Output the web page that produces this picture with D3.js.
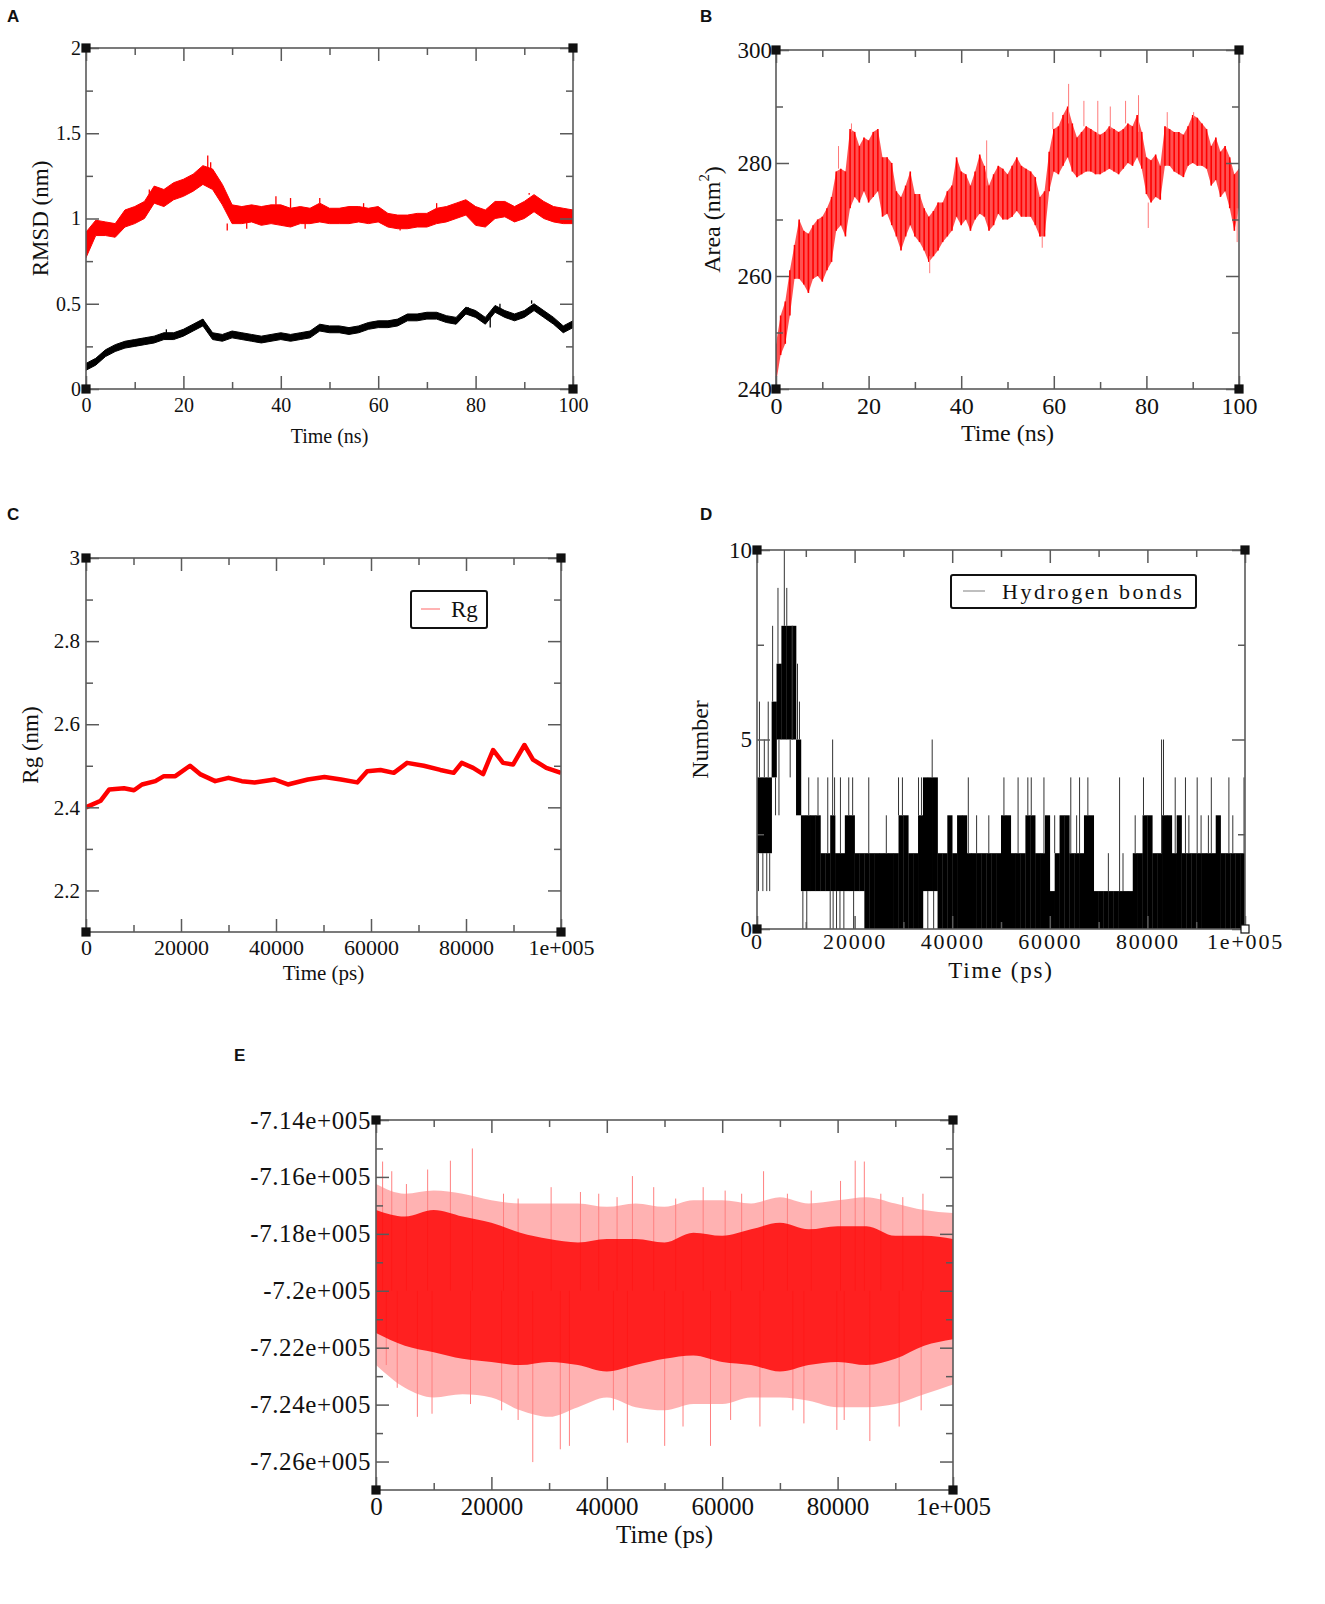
<!DOCTYPE html>
<html>
<head>
<meta charset="utf-8">
<script src="https://cdn.jsdelivr.net/npm/d3@7"></script>
<style>
body { margin: 0; background: #fff; }
svg text { font-family: "Liberation Serif", "Times New Roman", serif; fill: #111; }
.letter { font-family: "Liberation Sans", Arial, sans-serif; font-weight: bold; }
</style>
</head>
<body>
<div id="fig"></div>
<script>
// ---------- panel A : RMSD (nm) vs time (ns), read every 2 ns ----------
var aTime = [0,2,4,6,8,10,12,14,16,18, 20,22,24,26,28,30,32,34,36,38,
             40,42,44,46,48,50,52,54,56,58, 60,62,64,66,68,70,72,74,76,78,
             80,82,84,86,88,90,92,94,96,98, 100];
var aRedLo = [.77,.90,.90,.89,.95,.97,1.00,1.09,1.07,1.11, 1.13,1.16,1.20,1.17,1.08,.97,.97,.98,.96,.97,
              .96,.95,.97,.97,.98,.97,.97,.97,.98,.97, .98,.95,.94,.94,.95,.95,.97,.98,1.00,1.02,
              .96,.95,1.00,1.01,.98,1.00,1.04,1.00,.98,.97, .97];
var aRedHi = [.92,.99,.98,.97,1.05,1.07,1.10,1.19,1.17,1.21, 1.23,1.26,1.31,1.29,1.20,1.08,1.07,1.08,1.07,1.08,
              1.08,1.06,1.07,1.06,1.09,1.06,1.06,1.07,1.07,1.06, 1.07,1.03,1.02,1.02,1.03,1.03,1.06,1.07,1.09,1.11,
              1.07,1.05,1.10,1.10,1.07,1.10,1.14,1.10,1.07,1.06, 1.05];
var aBlackLo = [.11,.14,.19,.22,.24,.25,.26,.27,.29,.29, .31,.34,.37,.29,.28,.30,.29,.28,.27,.28,
                .29,.28,.29,.30,.34,.33,.33,.32,.33,.35, .36,.36,.37,.40,.40,.41,.41,.39,.38,.44,
                .42,.38,.45,.42,.40,.42,.46,.42,.38,.33, .36];
var aBlackHi = [.15,.18,.23,.26,.28,.29,.30,.31,.33,.33, .35,.38,.41,.33,.32,.34,.33,.32,.31,.32,
                .33,.32,.33,.34,.38,.37,.37,.36,.37,.39, .40,.40,.41,.44,.44,.45,.45,.43,.42,.48,
                .46,.42,.49,.46,.44,.46,.50,.46,.42,.37, .40];
// single excursions visible outside the bands (time ns, RMSD nm)
var aRedSpikeT = [13,25,25.6,29,33,39,42,45,48,57,64.5,72,91,91.6];
var aRedSpikeV = [1.17,1.37,1.33,0.93,0.94,1.13,1.12,0.94,1.12,1.09,0.93,1.09,1.15,1.13];
var aBlackSpikeT = [16.5,24,78.5,83,85,91.5];
var aBlackSpikeV = [0.35,0.41,0.48,0.36,0.50,0.52];
var aXTicks = [0,20,40,60,80,100], aXMinor = [10,30,50,70,90];
var aYTicks = [0,0.5,1,1.5,2], aYMinor = [0.25,0.75,1.25,1.75];
var aYLabels = ["0","0.5","1","1.5","2"];

// ---------- panel B : SASA area (nm2), read every 1 ns ----------
var bTime = [0,1,2,3,4,5,6,7,8,9, 10,11,12,13,14,15,16,17,18,19, 20,21,22,23,24,25,26,27,28,29,
             30,31,32,33,34,35,36,37,38,39, 40,41,42,43,44,45,46,47,48,49, 50,51,52,53,54,55,56,57,58,59,
             60,61,62,63,64,65,66,67,68,69, 70,71,72,73,74,75,76,77,78,79, 80,81,82,83,84,85,86,87,88,89,
             90,91,92,93,94,95,96,97,98,99, 100];
var bLo = [241,246,248,253,259.5,259.5,258.5,257,259.5,260, 259,261,262.5,268,269,267,272,274,273,275,
           273,274,275,270.5,271,269,267,264.5,267,269, 267,266,264.5,262.5,263.5,264.5,266,267,268,270.5,
           269,270,268,270,271,270.5,268,269,271,270, 270,270.5,271.5,270.5,270.5,270.5,269,267,267,275,
           278.5,278,279.5,281,278.5,277.5,278,278.5,278.5,278, 278,278.5,279,278.5,278,279,280,279.5,281,279,
           274.5,273,274,273.5,279.5,279.5,278.5,278,277.5,279.5, 280,279.5,279.5,279,276,277,274,275,272,268,
           272];
var bHi = [248,253,255.5,261,265.5,270,268,267.5,269,270, 270.5,272,274,278.5,279,278.5,286,285.5,283,284.5,
           284,285.5,286,281,281,280,275,274,276,278.5, 274.5,274.5,272,270.5,271.5,273,273,275,276,281,
           278.5,278,276,278.5,281.5,279.5,276,278,279.5,279, 278,279.5,281,279.5,279,278.5,277.5,274,275,282,
           286,286.5,288.5,290,287,284.5,285.5,286.5,286,285.5, 285,285.5,286.5,286,285.5,286,287,286.5,288.5,285.5,
           281,280.5,281.5,279.5,286.5,286,285.5,285.5,285,286.5, 288.5,288,287,286,283,284.5,282,283,281,278,
           279];
var bSpikeT = [13.5,16.3,33.2,45.5,57.5,59.8,63.2,66.5,69.5,72.2,75.5,78.3,80.4,84.5,90.2,99.6];
var bSpikeV = [283,287,260.5,284,265,289,294,291,291,290,291,292,268.5,289,289,266];
var bXTicks = [0,20,40,60,80,100], bXMinor = [10,30,50,70,90];
var bYTicks = [240,260,280,300], bYMinor = [250,270,290];

// ---------- panel C : radius of gyration (nm) vs time (ps) ----------
var cTime = [0,3100,4900,8000,10100,11800,14600,16400,18800,21900,24000,27200,30000,32800,35500,39700,
             42500,46700,50200,53700,57100,59200,62000,64800,67600,71100,74600,77400,79100,81500,83600,
             85700,87800,89900,92300,94100,96900,100000];
var cRg = [2.400,2.416,2.443,2.446,2.441,2.455,2.463,2.475,2.475,2.500,2.480,2.463,2.471,2.463,2.460,2.467,
           2.455,2.467,2.473,2.467,2.460,2.487,2.490,2.483,2.507,2.500,2.490,2.483,2.507,2.495,2.480,
           2.538,2.507,2.503,2.550,2.515,2.495,2.483];
var cXTicks = [0,20000,40000,60000,80000,100000], cXMinor = [10000,30000,50000,70000,90000];
var cXLabels = ["0","20000","40000","60000","80000","1e+005"];
var cYTicks = [2.2,2.4,2.6,2.8,3.0], cYMinor = [2.3,2.5,2.7,2.9];
var cYLabels = ["2.2","2.4","2.6","2.8","3"];

// ---------- panel D : hydrogen bonds, dense range per 1000 ps bin + single spikes ----------
var dBinLo = [2,2,2,4,5,5,5,5,3,1, 1,1,1,1,1,1,1,1,1,1, 1,1,0,0,0,0,0,0,0,0, 0,0,0,0,1,1,1,0,0,0,
              0,0,0,0,0,0,0,0,0,0, 0,0,0,0,0,0,0,0,0,0, 0,0,0,0,0,0,0,0,0,0, 0,0,0,0,0,0,0,0,0,0,
              0,0,0,0,0,0,0,0,0,0, 0,0,0,0,0,0,0,0,0,0];
var dBinHi = [4,4,4,6,7,8,8,8,5,3, 3,3,3,2,2,3,2,2,3,3, 2,2,2,2,2,2,2,2,2,3, 3,2,2,3,4,4,4,2,2,3,
              2,3,3,2,2,2,2,2,2,2, 3,3,2,2,2,3,3,2,2,3, 1,2,3,3,2,2,2,3,3,1, 1,1,1,1,1,1,1,2,2,3,
              3,2,2,3,3,2,3,2,2,2, 2,2,2,2,3,2,2,2,2,2];
var dSpikeT = [500,1500,2300,3200,4300,5600,6100,7300,8300,8700,
               10600,12500,14500,15500,15900,17100,18800,19600,22900,26500,29000,29800,33100,33700,35900,
               43300,45000,47500,50600,53500,55500,56200,58800,61000,64300,65500,66100,67800,72000,74300,
               75000,77500,79200,82900,83300,85700,87800,88500,90200,91000,92500,93100,96700,97500,99800,
               300,1200,2000,2600,3800,4500,6800,9400,10200,15000,15600,16300,17000,17800,19800,35000,36200];
var dSpikeV = [6,5,6,8,9,10,9,8,7,6,
               4,4,4,5,4,4,4,4,4,3,4,4,4,4,5,
               4,3,3,4,4,4,4,4,3,4,3,4,4,2,4,
               2,3,4,5,5,4,4,3,4,3,3,4,4,3,4,
               1,1,1,1,3,3,4,0,0,0,0,0,0,0,0,0,0];
var dXTicks = [0,20000,40000,60000,80000,100000], dXMinor = [10000,30000,50000,70000,90000];
var dYTicks = [0,5,10], dYMinor = [2.5,7.5];

// ---------- panel E : potential energy, envelopes per 5000 ps + visible spikes ----------
var eTime = [0,5000,10000,15000,20000,25000,30000,35000,40000,45000,50000,
             55000,60000,65000,70000,75000,80000,85000,90000,95000,100000];
var eOuterHi = [-716250,-716590,-716480,-716590,-716820,-716930,-716930,-716930,-717050,-716930,-717050,
                -716820,-716820,-716930,-716710,-716930,-716820,-716710,-716930,-717160,-717270];
var eCoreHi = [-717160,-717390,-717160,-717390,-717610,-717960,-718180,-718300,-718180,-718180,-718300,
               -717960,-718070,-717840,-717610,-717840,-717730,-717730,-718070,-718070,-718180];
var eCoreLo = [-721480,-721930,-722160,-722390,-722500,-722610,-722500,-722610,-722840,-722610,-722390,
               -722270,-722500,-722610,-722840,-722610,-722500,-722610,-722390,-721930,-721700];
var eOuterLo = [-722610,-723410,-723750,-723640,-723750,-724200,-724430,-724090,-723750,-724090,-724200,
                -723980,-723980,-723750,-723750,-723860,-724090,-724090,-723980,-723640,-723290];
var eSpikeT = [1143,2730,5270,8950,12890,16700,22100,24630,30350,35430,38600,41780,44440,48130,
               51940,56700,60510,63370,67170,71300,75430,80510,83050,84630,87490,91300,94790,
               1780,3680,7170,9710,16380,21780,24630,27170,31940,33520,41140,43560,50030,53210,
               57970,61460,66540,72250,74160,79870,81140,85590,90670,94480];
var eSpikeV = [-715460,-715800,-716250,-715740,-715430,-715000,-716590,-716760,-716360,-716530,-716590,
               -716710,-715970,-716360,-716760,-716360,-716480,-716590,-715800,-716590,-716480,-716140,
               -715430,-715460,-716590,-716710,-716590,
               -722610,-723410,-724430,-724320,-723980,-724200,-724540,-726020,-725570,-725450,-724200,
               -725340,-725450,-724770,-725450,-724540,-724770,-724200,-724660,-724890,-724540,-725280,
               -724770,-724200];
var eXTicks = [0,20000,40000,60000,80000,100000], eXMinor = [10000,30000,50000,70000,90000];
var eYTicks = [-726000,-724000,-722000,-720000,-718000,-716000,-714000];
var eYMinor = [-725000,-723000,-721000,-719000,-717000,-715000];
var eYLabels = ["-7.26e+005","-7.24e+005","-7.22e+005","-7.2e+005","-7.18e+005","-7.16e+005","-7.14e+005"];

var psLabels = ["0","20000","40000","60000","80000","1e+005"];

var svg = d3.select("#fig").append("svg").attr("width", 1325).attr("height", 1604);
var frameColor = "#5a5a5a";
var clipId = 0;

function setPanel(p) {
    var x = d3.scaleLinear().domain(p.xDomain).range([p.left, p.right]);
    var y = d3.scaleLinear().domain(p.yDomain).range([p.bottom, p.top]);
    var g = svg.append("g");
    var id = "clip" + (clipId++);
    g.append("clipPath").attr("id", id).append("rect")
        .attr("x", p.left).attr("y", p.top)
        .attr("width", p.right - p.left).attr("height", p.bottom - p.top);
    var plot = g.append("g").attr("clip-path", "url(#" + id + ")");
    return { p: p, x: x, y: y, g: g, plot: plot };
}

function styleAxis(sel, size, spacing) {
    sel.select(".domain").remove();
    sel.selectAll("line").attr("stroke", frameColor).attr("stroke-width", 1.5);
    sel.selectAll("text").attr("font-family", "Liberation Serif, serif").attr("font-size", size)
        .attr("letter-spacing", spacing || 0).attr("fill", "#111");
}

function finishPanel(P) {
    var p = P.p, g = P.g, x = P.x, y = P.y;
    var big = p.major || 13, small = p.minor || 7;
    g.append("rect").attr("x", p.left).attr("y", p.top)
        .attr("width", p.right - p.left).attr("height", p.bottom - p.top)
        .attr("fill", "none").attr("stroke", frameColor).attr("stroke-width", 1.6);

    // ticks on all four sides, pointing inwards
    g.append("g").attr("transform", "translate(0," + p.bottom + ")")
        .call(d3.axisBottom(x).tickValues(p.xTicks).tickSize(-big).tickPadding(p.xPad)
            .tickFormat(function (d, i) { return p.xLabels[i]; }))
        .call(styleAxis, p.xFont, p.xSpacing);
    g.append("g").attr("transform", "translate(0," + p.bottom + ")")
        .call(d3.axisBottom(x).tickValues(p.xMinor).tickSize(-small).tickFormat(""))
        .call(styleAxis, p.xFont);
    g.append("g").attr("transform", "translate(0," + p.top + ")")
        .call(d3.axisTop(x).tickValues(p.xTicks).tickSize(-big).tickFormat(""))
        .call(styleAxis, p.xFont);
    g.append("g").attr("transform", "translate(0," + p.top + ")")
        .call(d3.axisTop(x).tickValues(p.xMinor).tickSize(-small).tickFormat(""))
        .call(styleAxis, p.xFont);
    g.append("g").attr("transform", "translate(" + p.left + ",0)")
        .call(d3.axisLeft(y).tickValues(p.yTicks).tickSize(-big).tickPadding(p.yPad)
            .tickFormat(function (d, i) { return p.yLabels[i]; }))
        .call(styleAxis, p.yFont, p.ySpacing);
    g.append("g").attr("transform", "translate(" + p.left + ",0)")
        .call(d3.axisLeft(y).tickValues(p.yMinor).tickSize(-small).tickFormat(""))
        .call(styleAxis, p.yFont);
    g.append("g").attr("transform", "translate(" + p.right + ",0)")
        .call(d3.axisRight(y).tickValues(p.yTicks).tickSize(-big).tickFormat(""))
        .call(styleAxis, p.yFont);
    g.append("g").attr("transform", "translate(" + p.right + ",0)")
        .call(d3.axisRight(y).tickValues(p.yMinor).tickSize(-small).tickFormat(""))
        .call(styleAxis, p.yFont);

    // little square markers in the corners
    var corners = [[p.left, p.top], [p.right, p.top], [p.left, p.bottom], [p.right, p.bottom]];
    g.selectAll(".corner").data(corners).enter().append("rect")
        .attr("x", function (d) { return d[0] - 4; }).attr("y", function (d) { return d[1] - 4; })
        .attr("width", 8).attr("height", 8)
        .attr("fill", function (d, i) { return (p.hollowLast && i == 3) ? "#fff" : "#111"; })
        .attr("stroke", "#111").attr("stroke-width", 1.2);

    g.append("text").attr("x", x((p.xDomain[0] + p.xDomain[1]) / 2) + (p.xTitleDx || 0)).attr("y", p.xTitleY)
        .attr("text-anchor", "middle").attr("font-size", p.titleFont)
        .attr("letter-spacing", p.xSpacing || 0).text(p.xTitle);
    if (p.yTitle) {
        var t = g.append("text").attr("text-anchor", "middle").attr("font-size", p.yTitleFont)
            .attr("transform", "translate(" + p.yTitleX + "," + ((p.top + p.bottom) / 2) + ") rotate(-90)")
            .attr("dy", "0.35em");
        t.append("tspan").text(p.yTitle);
        if (p.ySup) {
            t.append("tspan").attr("font-size", p.yTitleFont * 0.62).attr("dy", "-0.75em").text(p.ySup);
            t.append("tspan").attr("dy", "0.47em").text(")");
        }
    }
    svg.append("text").attr("class", "letter").attr("x", p.letterX).attr("y", p.letterY)
        .attr("font-size", 17).text(p.letter);
}

function spikeLines(P, ts, vs, baseFn, color, width) {
    P.plot.append("g").selectAll("line").data(ts).enter().append("line")
        .attr("x1", function (d) { return P.x(d); }).attr("x2", function (d) { return P.x(d); })
        .attr("y1", function (d, i) { return P.y(baseFn(d, vs[i])); })
        .attr("y2", function (d, i) { return P.y(vs[i]); })
        .attr("stroke", color).attr("stroke-width", width);
}

// nearest band edge at a given time, so that a spike starts from the band
function edgeAt(times, lo, hi) {
    return function (t, v) {
        var i = d3.bisectLeft(times, t);
        i = Math.max(0, Math.min(times.length - 1, i));
        return v > hi[i] ? hi[i] : lo[i];
    };
}

// ---------------- A ----------------
var A = setPanel({
    left: 86, right: 573, top: 48, bottom: 389, xDomain: [0, 100], yDomain: [0, 2],
    xTicks: aXTicks, xMinor: aXMinor, xLabels: aXTicks.map(String),
    yTicks: aYTicks, yMinor: aYMinor, yLabels: aYLabels,
    xFont: 20, yFont: 20, titleFont: 20, yTitleFont: 23, xPad: 9, yPad: 5,
    xTitle: "Time (ns)", xTitleY: 443, yTitle: "RMSD (nm)", yTitleX: 40,
    letter: "A", letterX: 7, letterY: 22
});
[[aRedLo, aRedHi, "#ff0000", aRedSpikeT, aRedSpikeV], [aBlackLo, aBlackHi, "#000", aBlackSpikeT, aBlackSpikeV]].forEach(function (s) {
    var area = d3.area().x(function (d, i) { return A.x(aTime[i]); })
        .y0(function (d, i) { return A.y(s[0][i]); }).y1(function (d, i) { return A.y(s[1][i]); });
    A.plot.append("path").datum(aTime).attr("d", area).attr("fill", s[2])
        .attr("stroke", s[2]).attr("stroke-width", 1).attr("stroke-linejoin", "round");
    spikeLines(A, s[3], s[4], edgeAt(aTime, s[0], s[1]), s[2], 1.3);
});
finishPanel(A);

// ---------------- B ----------------
var B = setPanel({
    left: 776, right: 1239, top: 50, bottom: 389, xDomain: [0, 100], yDomain: [240, 300],
    xTicks: bXTicks, xMinor: bXMinor, xLabels: bXTicks.map(String),
    yTicks: bYTicks, yMinor: bYMinor, yLabels: bYTicks.map(String),
    xFont: 24, yFont: 23, titleFont: 24, yTitleFont: 24, xPad: 8, yPad: 4,
    xTitle: "Time (ns)", xTitleY: 441, yTitle: "Area (nm", ySup: "2", yTitleX: 712,
    letter: "B", letterX: 700, letterY: 22
});
var bArea = d3.area().x(function (d, i) { return B.x(bTime[i]); })
    .y0(function (d, i) { return B.y(bLo[i]); }).y1(function (d, i) { return B.y(bHi[i]); });
B.plot.append("path").datum(bTime).attr("d", bArea).attr("fill", "#ff2020").attr("fill-opacity", 0.78);
// range of each 1 ns sample drawn as a vertical stroke
spikeLines(B, bTime, bHi, function (t) { return bLo[bTime.indexOf(t)]; }, "#ff0000", 1.6);
spikeLines(B, bSpikeT, bSpikeV, edgeAt(bTime, bLo, bHi), "#ff7a7a", 1);
finishPanel(B);

// ---------------- C ----------------
var C = setPanel({
    left: 86, right: 561, top: 558, bottom: 932, xDomain: [0, 100000], yDomain: [2.1, 3],
    xTicks: cXTicks, xMinor: cXMinor, xLabels: cXLabels,
    yTicks: cYTicks, yMinor: cYMinor, yLabels: cYLabels,
    xFont: 22, yFont: 21, titleFont: 21, yTitleFont: 23, xPad: 7, yPad: 6,
    xTitle: "Time (ps)", xTitleY: 980, yTitle: "Rg (nm)", yTitleX: 30,
    letter: "C", letterX: 7, letterY: 520
});
C.plot.append("path").datum(cTime)
    .attr("d", d3.line().x(function (d) { return C.x(d); }).y(function (d, i) { return C.y(cRg[i]); }))
    .attr("fill", "none").attr("stroke", "#ff0000").attr("stroke-width", 4.5).attr("stroke-linejoin", "round");
finishPanel(C);
C.g.append("rect").attr("x", 411).attr("y", 591).attr("width", 76).attr("height", 37).attr("rx", 2)
    .attr("fill", "#fff").attr("stroke", "#111").attr("stroke-width", 2);
C.g.append("line").attr("x1", 421).attr("x2", 440).attr("y1", 609).attr("y2", 609)
    .attr("stroke", "#ff9a9a").attr("stroke-width", 1.5);
C.g.append("text").attr("x", 451).attr("y", 617).attr("font-size", 23).text("Rg");

// ---------------- D ----------------
var D = setPanel({
    left: 757, right: 1245, top: 550, bottom: 929, xDomain: [0, 100000], yDomain: [0, 10],
    xTicks: dXTicks, xMinor: dXMinor, xLabels: psLabels,
    yTicks: dYTicks, yMinor: dYMinor, yLabels: dYTicks.map(String),
    xFont: 22, yFont: 23, titleFont: 23, yTitleFont: 24, xPad: 4, yPad: 5, xSpacing: 1.8,
    xTitle: "Time (ps)", xTitleY: 978, yTitle: "Number", yTitleX: 700, hollowLast: true,
    letter: "D", letterX: 700, letterY: 520
});
var dBins = dBinLo.map(function (lo, i) { return { t: i * 1000, lo: lo, hi: dBinHi[i] }; });
D.plot.selectAll(".bin").data(dBins).enter().append("rect")
    .attr("x", function (d) { return D.x(d.t); })
    .attr("width", function (d) { return D.x(d.t + 1000) - D.x(d.t) + 0.3; })
    .attr("y", function (d) { return D.y(d.hi); })
    .attr("height", function (d) { return D.y(d.lo) - D.y(d.hi); })
    .attr("fill", "#000");
spikeLines(D, dSpikeT, dSpikeV, function (t, v) {
    var b = dBins[Math.min(99, Math.floor(t / 1000))];
    return v > b.hi ? b.hi : b.lo;
}, "#333", 1);
finishPanel(D);
D.g.append("rect").attr("x", 951).attr("y", 575).attr("width", 245).attr("height", 33).attr("rx", 2)
    .attr("fill", "#fff").attr("stroke", "#111").attr("stroke-width", 2);
D.g.append("line").attr("x1", 963).attr("x2", 985).attr("y1", 591).attr("y2", 591)
    .attr("stroke", "#aaa").attr("stroke-width", 1.5);
D.g.append("text").attr("x", 1002).attr("y", 599).attr("font-size", 22).attr("letter-spacing", 2.6)
    .text("Hydrogen bonds");

// ---------------- E ----------------
var E = setPanel({
    left: 376, right: 953, top: 1120, bottom: 1490, xDomain: [0, 100000], yDomain: [-727000, -714000],
    xTicks: eXTicks, xMinor: eXMinor, xLabels: psLabels,
    yTicks: eYTicks, yMinor: eYMinor, yLabels: eYLabels,
    xFont: 25, yFont: 25, titleFont: 25, xPad: 7, yPad: 5, ySpacing: 0.6,
    xTitle: "Time (ps)", xTitleY: 1543, yTitle: null,
    letter: "E", letterX: 234, letterY: 1061
});
function eArea(lo, hi) {
    return d3.area().x(function (d, i) { return E.x(eTime[i]); })
        .y0(function (d, i) { return E.y(lo[i]); }).y1(function (d, i) { return E.y(hi[i]); })
        .curve(d3.curveMonotoneX);
}
E.plot.append("path").datum(eTime).attr("d", eArea(eOuterLo, eOuterHi))
    .attr("fill", "#ff0000").attr("fill-opacity", 0.3);
spikeLines(E, eSpikeT, eSpikeV, function () { return -720000; }, "#ff8080", 1);
E.plot.append("path").datum(eTime).attr("d", eArea(eCoreLo, eCoreHi))
    .attr("fill", "#ff0000").attr("fill-opacity", 0.82);
finishPanel(E);
</script>
</body>
</html>
